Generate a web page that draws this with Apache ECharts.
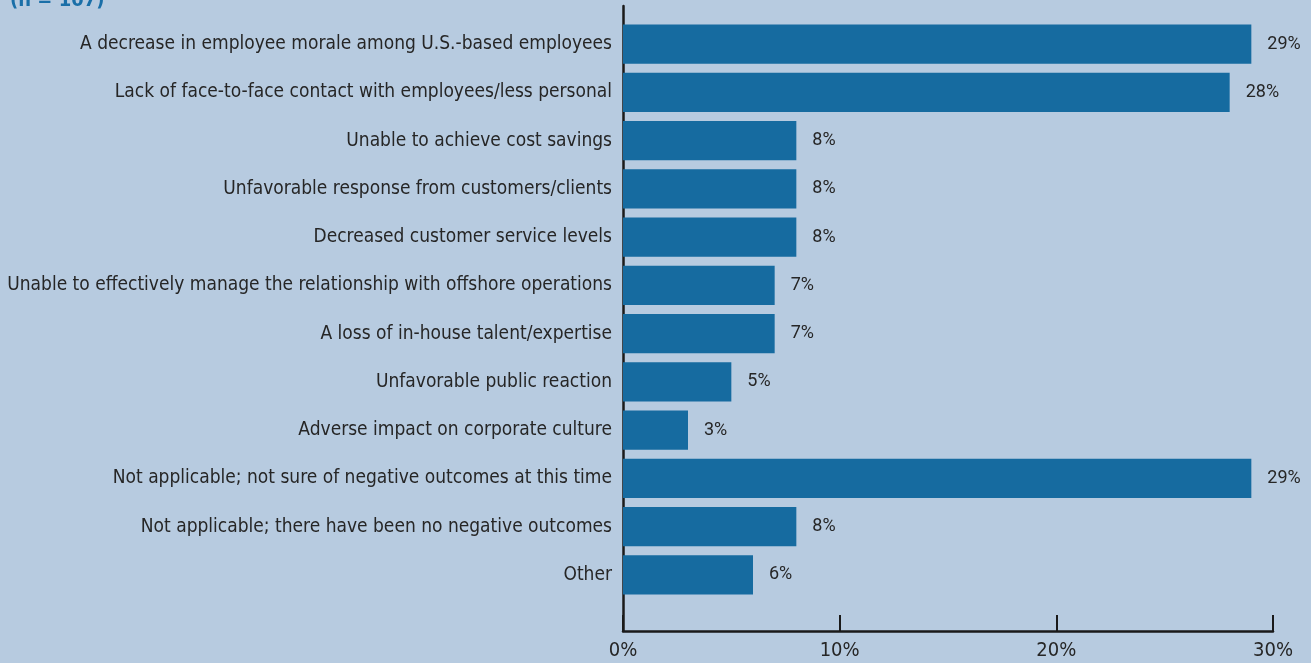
<!DOCTYPE html>
<html>
<head>
<meta charset="utf-8">
<script src="https://cdn.jsdelivr.net/npm/echarts@6/dist/echarts.min.js"></script>
<style>
  html, body { margin: 0; padding: 0; background: #b7cbe0; }
  #chart { width: 1311px; height: 663px; }
</style>
</head>
<body>
<div id="chart"></div>
<script>
// Negative outcomes experienced from offshoring (share of respondents)
const categories = [
  'A decrease in employee morale among U.S.-based employees',
  'Lack of face-to-face contact with employees/less personal',
  'Unable to achieve cost savings',
  'Unfavorable response from customers/clients',
  'Decreased customer service levels',
  'Unable to effectively manage the relationship with offshore operations',
  'A loss of in-house talent/expertise',
  'Unfavorable public reaction',
  'Adverse impact on corporate culture',
  'Not applicable; not sure of negative outcomes at this time',
  'Not applicable; there have been no negative outcomes',
  'Other'
];
const values = [29, 28, 8, 8, 8, 7, 7, 5, 3, 29, 8, 6];
const axisTicks = [0, 10, 20, 30];
const sampleNote = '(n = 107)';

const BAR_COLOR = '#166ba0';
const TEXT_COLOR = '#262626';
const NARROW = '"DejaVu Sans Condensed", "Liberation Sans Narrow", sans-serif';

const chart = echarts.init(document.getElementById('chart'));
chart.setOption({
  backgroundColor: '#b7cbe0',
  animation: false,
  graphic: [{
    type: 'text',
    left: 10,
    top: -9,
    style: {
      text: sampleNote,
      fill: '#1a6fa8',
      font: 'bold 20px ' + NARROW
    }
  }],
  grid: [
    { left: 623, right: 38, top: 20, bottom: 64, containLabel: false, outerBoundsMode: 'none' },
    { left: 623, right: 38, top: 6, bottom: 32, containLabel: false, outerBoundsMode: 'none' }
  ],
  xAxis: [
    { gridIndex: 0, type: 'value', min: 0, max: 30, show: false },
    {
      gridIndex: 1, type: 'value', min: 0, max: 30, interval: 10,
      axisLine: { show: true, lineStyle: { color: '#1a1a1a', width: 2.5 } },
      axisTick: { show: true, inside: true, length: 16, lineStyle: { color: '#1a1a1a', width: 2 } },
      splitLine: { show: false },
      axisLabel: {
        margin: 10,
        color: TEXT_COLOR,
        fontFamily: NARROW,
        fontSize: 20,
        formatter: v => (axisTicks.includes(v) ? v + '%' : '')
      }
    }
  ],
  yAxis: [
    {
      gridIndex: 0, type: 'category', data: categories, inverse: true,
      axisLine: { show: false },
      axisTick: { show: false },
      axisLabel: {
        margin: 11,
        color: TEXT_COLOR,
        fontFamily: NARROW,
        fontSize: 19
      }
    },
    {
      gridIndex: 1, type: 'value', min: 0, max: 1,
      axisLine: { show: true, lineStyle: { color: '#1a1a1a', width: 2.5 } },
      axisTick: { show: false },
      axisLabel: { show: false },
      splitLine: { show: false }
    }
  ],
  series: [{
    type: 'bar',
    xAxisIndex: 0,
    yAxisIndex: 0,
    data: values,
    barCategoryGap: '19%',
    itemStyle: { color: BAR_COLOR },
    label: {
      show: true,
      position: 'right',
      distance: 16,
      color: TEXT_COLOR,
      fontFamily: 'Roboto, "Liberation Sans", sans-serif',
      fontSize: 18,
      formatter: p => p.value + '%'
    },
    z: 3
  }]
});
</script>
</body>
</html>
